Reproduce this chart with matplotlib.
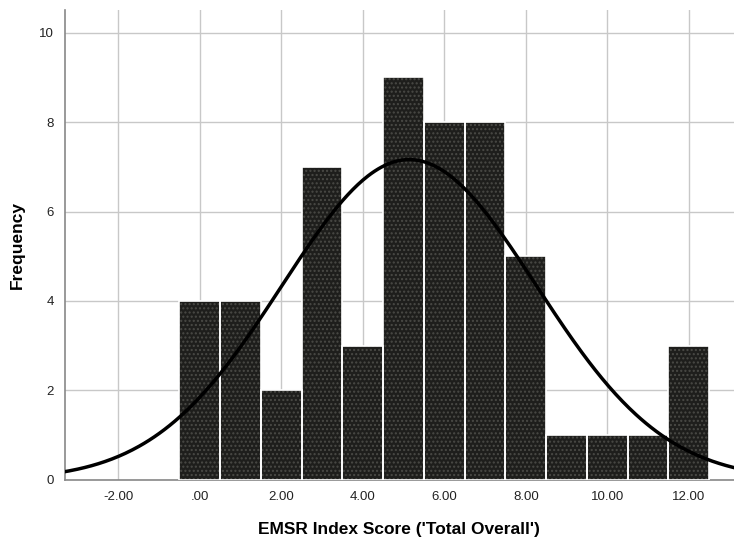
import numpy as np
import matplotlib.pyplot as plt

plt.rcParams['font.family'] = ['Liberation Sans', 'DejaVu Sans']

# histogram bins (centers) and counts
bin_centers = [0, 1, 2, 3, 4, 5, 6, 7, 8, 9, 10, 11, 12]
counts = [4, 4, 2, 7, 3, 9, 8, 8, 5, 1, 1, 1, 3]
x_ticks = [-2, 0, 2, 4, 6, 8, 10, 12]
x_tick_labels = ['-2.00', '.00', '2.00', '4.00', '6.00', '8.00', '10.00', '12.00']
y_ticks = [0, 2, 4, 6, 8, 10]

# normal curve parameters
mean = 5.14
sd = 3.12
n = sum(counts)

fig = plt.figure(figsize=(7.34, 5.38), dpi=100)
ax = fig.add_axes([0.0886, 0.108, 0.911, 0.873])

ax.bar(bin_centers, counts, width=1.0, color='#1e1e1c', edgecolor='#4a4a46',
       linewidth=0, hatch='....', zorder=3)
ax.bar(bin_centers, counts, width=1.0, fill=False, edgecolor='white',
       linewidth=1.2, zorder=4)

xs = np.linspace(-3.4, 13.2, 400)
ys = n * 1.0 / (sd * np.sqrt(2 * np.pi)) * np.exp(-(xs - mean) ** 2 / (2 * sd ** 2))
ax.plot(xs, ys, color='black', linewidth=2.5, zorder=5)

ax.set_xlim(-3.3, 13.1)
ax.set_ylim(0, 10.5)
ax.set_xticks(x_ticks)
ax.set_xticklabels(x_tick_labels)
ax.set_yticks(y_ticks)
ax.grid(True, color='#c8c8c8', linewidth=1.0, zorder=0)
ax.set_axisbelow(True)
ax.tick_params(length=0, labelsize=9.5, colors='#222222', pad=8)

for s in ['top', 'right']:
    ax.spines[s].set_visible(False)
for s in ['left', 'bottom']:
    ax.spines[s].set_color('#888888')
    ax.spines[s].set_linewidth(1.2)

ax.set_xlabel("EMSR Index Score ('Total Overall')", fontsize=12.5, fontweight='bold', labelpad=14)
ax.set_ylabel('Frequency', fontsize=12.5, fontweight='bold', labelpad=10)

fig.savefig('out.png', dpi=100)
